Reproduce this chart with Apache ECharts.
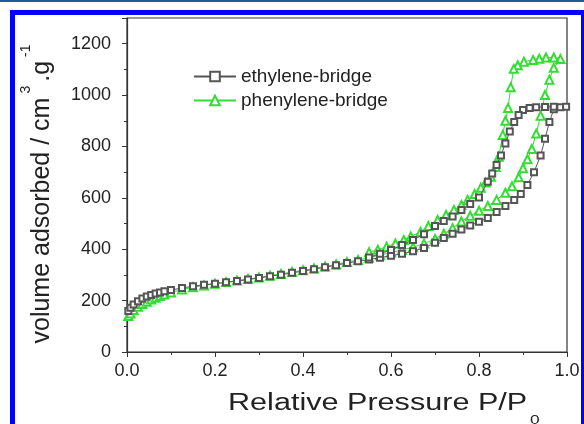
<!DOCTYPE html>
<html>
<head>
<meta charset="utf-8">
<script src="https://cdn.jsdelivr.net/npm/echarts@6/dist/echarts.min.js"></script>
<style>html,body{margin:0;padding:0;background:#fff}#c{width:584px;height:424px}</style>
</head>
<body>
<div id="c"></div>
<script>
const xTicks = [0, 0.2, 0.4, 0.6, 0.8, 1.0];
const yTicks = [0, 200, 400, 600, 800, 1000, 1200];
const seriesNames = ['ethylene-bridge', 'phenylene-bridge'];

const ethAdsP = [0.003,0.008,0.015,0.025,0.035,0.045,0.055,0.065,0.075,0.085,0.1,0.125,0.15,0.175,0.2,0.225,0.25,0.275,0.3,0.325,0.35,0.375,0.4,0.425,0.45,0.475,0.5,0.525,0.55,0.575,0.6,0.625,0.65,0.675,0.7,0.72,0.74,0.76,0.78,0.8,0.82,0.84,0.86,0.88,0.895,0.91,0.925,0.94,0.95,0.96,0.97,0.985,0.998];
const ethAdsV = [160,172,185,198,208,216,222,228,232,236,241,249,256,262,266,271,276,282,288,295,301,308,315,322,330,338,346,353,360,367,375,382,392,405,425,444,460,477,492,507,522,545,568,592,615,650,700,765,830,895,945,953,955];
const ethDesP = [0.97,0.95,0.93,0.915,0.9,0.89,0.88,0.87,0.86,0.85,0.84,0.83,0.82,0.8,0.78,0.76,0.74,0.72,0.7,0.675,0.65,0.625,0.6,0.575,0.55];
const ethDesV = [955,954,953,950,942,922,895,858,812,765,728,695,663,601,576,553,527,510,490,458,436,416,397,382,368];

const phAdsP = [0.003,0.008,0.015,0.025,0.035,0.045,0.055,0.065,0.075,0.085,0.1,0.125,0.15,0.175,0.2,0.225,0.25,0.275,0.3,0.325,0.35,0.375,0.4,0.425,0.45,0.475,0.5,0.525,0.55,0.575,0.6,0.625,0.65,0.675,0.7,0.72,0.74,0.76,0.78,0.8,0.82,0.84,0.86,0.875,0.89,0.9,0.91,0.92,0.93,0.94,0.95,0.96,0.97,0.985];
const phAdsV = [140,150,163,176,187,196,204,211,218,224,232,243,252,259,266,272,278,284,290,297,304,311,318,325,333,341,350,358,367,377,387,397,408,422,440,460,482,508,530,550,568,592,620,645,680,715,750,790,850,920,1000,1060,1106,1140];
const phDesP = [0.97,0.952,0.937,0.923,0.902,0.888,0.879,0.872,0.866,0.86,0.854,0.845,0.838,0.827,0.815,0.804,0.79,0.774,0.76,0.743,0.725,0.706,0.685,0.667,0.645,0.629,0.61,0.59,0.57,0.55];
const phDesV = [1146,1146,1141,1137,1130,1116,1102,1030,950,900,845,760,720,682,660,639,615,592,572,553,533,514,490,467,450,436,422,410,398,388];

function pairs(P, V) { return P.map((p, i) => [p, V[i]]); }
const ethData = pairs(ethAdsP, ethAdsV).concat(pairs(ethDesP, ethDesV));
const phData = pairs(phAdsP, phAdsV).concat(pairs(phDesP, phDesV));

const chart = echarts.init(document.getElementById('c'), null, {renderer: 'canvas'});
const font = 'Liberation Sans, Arial, sans-serif';
const axisColor = '#333';
chart.setOption({
  backgroundColor: '#fff',
  animation: false,
  graphic: [
    {type: 'rect', shape: {x: 0, y: 0, width: 584, height: 2}, style: {fill: '#1a5c9c'}, z: 100},
    {type: 'rect', shape: {x: 12.5, y: 12.5, width: 571, height: 500}, style: {fill: 'none', stroke: '#0000ff', lineWidth: 5}, z: 100},
    {type: 'text', x: 228, y: 392, scaleX: 1.33, scaleY: 1, z: 50,
      style: {
        text: '{a|Relative Pressure P/P}{s|0}',
        x: 0, y: 0, align: 'left', verticalAlign: 'top',
        rich: {
          a: {fontFamily: font, fontSize: 23, fill: '#222', lineHeight: 24, verticalAlign: 'top'},
          s: {fontFamily: font, fontSize: 13, fill: '#222', lineHeight: 13, padding: [22, 0, 0, 2], verticalAlign: 'top'}
        }
      }
    }
  ],
  grid: {left: 127, right: 17, top: 18, bottom: 72, show: true, borderColor: axisColor, borderWidth: 1.2, backgroundColor: 'transparent'},
  legend: {
    orient: 'vertical', left: 193, top: 67, padding: 0, itemWidth: 42, itemHeight: 12, itemGap: 5,
    textStyle: {fontFamily: font, fontSize: 19, color: '#222'},
    data: seriesNames
  },
  xAxis: {
    type: 'value', min: 0, max: 1, interval: 0.2,
    axisLine: {show: true, lineStyle: {color: axisColor, width: 1.2}},
    axisTick: {show: true, inside: false, length: 5, lineStyle: {color: axisColor}},
    minorTick: {show: true, splitNumber: 2, length: 3, lineStyle: {color: axisColor}},
    splitLine: {show: false},
    axisLabel: {fontFamily: font, fontSize: 18, color: '#222', margin: 10, formatter: v => v.toFixed(1)}
  },
  yAxis: {
    type: 'value', min: 0, max: 1300, interval: 200,
    axisLine: {show: true, lineStyle: {color: axisColor, width: 1.2}},
    axisTick: {show: true, inside: false, length: 5, lineStyle: {color: axisColor}},
    minorTick: {show: true, splitNumber: 2, length: 3, lineStyle: {color: axisColor}},
    splitLine: {show: false},
    axisLabel: {fontFamily: font, fontSize: 18, color: '#222', margin: 16,
      formatter: v => (yTicks.indexOf(v) >= 0 ? String(v) : '')},
    name: '{a|volume adsorbed / cm}{b|3}{a|.g}{b|-1}',
    nameLocation: 'middle', nameGap: 72, nameRotate: 90,
    nameTextStyle: {padding: [0, 14, 0, 0], rich: {
      a: {fontFamily: font, fontSize: 25, color: '#222', lineHeight: 36, verticalAlign: 'bottom'},
      b: {fontFamily: font, fontSize: 14, color: '#222', lineHeight: 16, verticalAlign: 'top', padding: [0, 4, 0, 4]}
    }}
  },
  series: [
    {
      name: seriesNames[0], type: 'line', data: ethData,
      symbol: 'emptyRect', symbolSize: 6,
      itemStyle: {color: '#555', borderWidth: 1}, lineStyle: {color: '#555', width: 1}, z: 3
    },
    {
      name: seriesNames[1], type: 'line', data: phData,
      symbol: 'emptyTriangle', symbolSize: 8,
      itemStyle: {color: '#33dd33', borderWidth: 1}, lineStyle: {color: '#33dd33', width: 1}, z: 2
    }
  ]
});
</script>
</body>
</html>
